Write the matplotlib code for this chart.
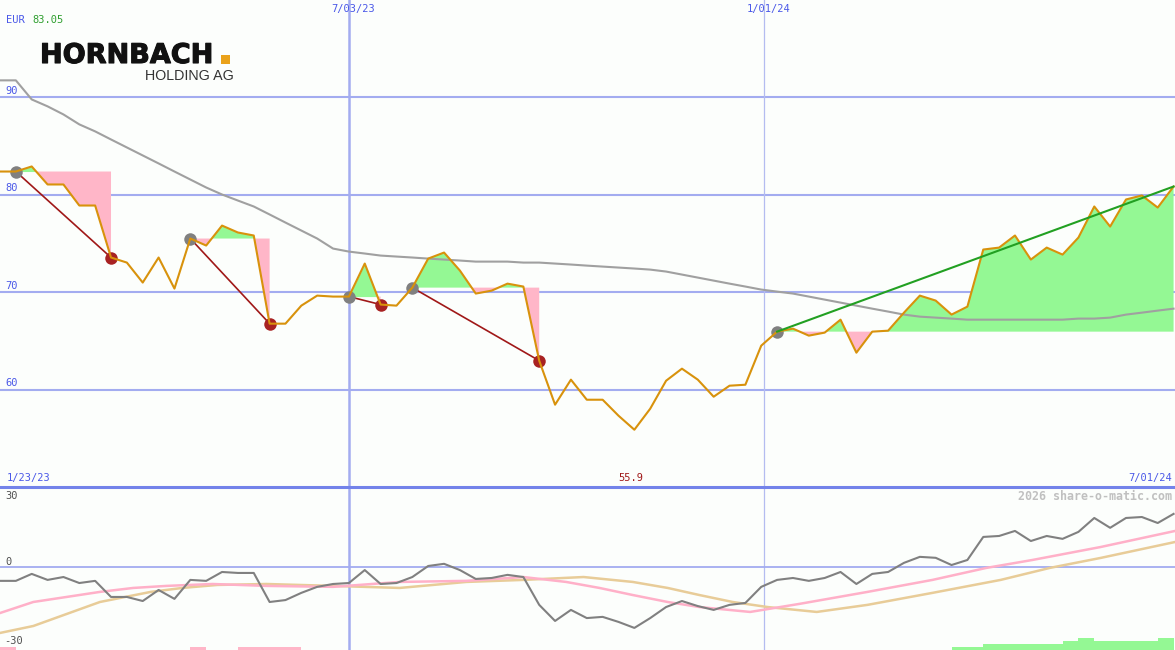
import numpy as np
import matplotlib
matplotlib.use('Agg')
import matplotlib.pyplot as plt
import matplotlib.patheffects as pe

# =========================
# 数据 (周序号, 价格 EUR)
# =========================

weeks = np.arange(75)

price = [82.39, 82.39, 82.91, 81.06, 81.06, 78.90, 78.90, 73.56, 73.04, 70.99,
         73.56, 70.37, 75.51, 74.79, 76.84, 76.13, 75.82, 66.77, 66.77, 68.62,
         69.65, 69.55, 69.55, 72.94, 68.73, 68.62, 70.47, 73.45, 74.07, 72.22,
         69.86, 70.16, 70.88, 70.58, 62.97, 58.45, 61.02, 58.96, 58.96, 57.32,
         55.88, 58.04, 60.91, 62.15, 61.02, 59.27, 60.40, 60.50, 64.51, 65.95,
         66.26, 65.54, 65.85, 67.18, 63.79, 65.95, 66.05, 67.90, 69.65, 69.14,
         67.70, 68.52, 74.38, 74.58, 75.82, 73.35, 74.58, 73.86, 75.61, 78.80,
         76.74, 79.52, 79.93, 78.69, 80.85]

ma_long = [91.75, 91.75, 89.79, 89.08, 88.25, 87.23, 86.51, 85.68, 84.86, 84.04,
           83.22, 82.39, 81.57, 80.75, 80.03, 79.41, 78.80, 77.98, 77.15, 76.33,
           75.51, 74.48, 74.17, 73.97, 73.76, 73.66, 73.56, 73.45, 73.35, 73.25,
           73.14, 73.14, 73.14, 73.04, 73.04, 72.94, 72.84, 72.73, 72.63, 72.53,
           72.43, 72.32, 72.12, 71.81, 71.50, 71.19, 70.88, 70.58, 70.27, 70.06,
           69.86, 69.55, 69.24, 68.93, 68.62, 68.31, 68.01, 67.70, 67.49, 67.39,
           67.29, 67.18, 67.18, 67.18, 67.18, 67.18, 67.18, 67.18, 67.29, 67.29,
           67.39, 67.70, 67.90, 68.11, 68.31]

# 趋势线: 起点周, 终点周
down_start = [1, 12, 22, 26]
down_end = [7, 17, 24, 34]
up_start = 49
up_end = 74

# 下方指标
momentum = [-5.8, -5.8, -2.9, -5.4, -4.2, -6.7, -5.8, -12.5, -12.5, -14.2,
            -9.6, -13.3, -5.4, -5.8, -2.1, -2.5, -2.5, -14.6, -13.8, -10.8,
            -8.3, -7.1, -6.7, -1.3, -7.1, -6.7, -4.2, 0.4, 1.3, -1.3,
            -5.0, -4.6, -3.3, -4.2, -15.8, -22.5, -17.9, -21.3, -20.8, -22.9,
            -25.4, -21.3, -16.7, -14.2, -16.3, -17.9, -15.8, -15.0, -8.3, -5.4,
            -4.6, -5.8, -4.6, -2.1, -7.1, -2.9, -2.1, 1.7, 4.2, 3.8,
            0.8, 2.9, 12.5, 12.9, 15.0, 10.8, 12.9, 11.7, 14.6, 20.4,
            16.3, 20.4, 20.8, 18.3, 22.1]

signal_x = [0, 2.1, 4.2, 6.3, 8.4, 10.5, 13.4, 16.8, 21.0, 25.2, 29.4, 33.0, 35.7,
            37.8, 39.9, 42.1, 44.1, 47.3, 50.4, 54.7, 58.8, 62.2, 65.1, 69.4, 74.1]
signal_y = [-19.2, -14.6, -12.5, -10.4, -8.75, -7.9, -7.1, -7.9, -8.3, -6.25, -5.8, -4.2, -6.25,
            -8.75, -11.7, -14.6, -16.7, -18.75, -15.4, -10.4, -5.4, -0.4, 2.9, 8.3, 15.0]

slow_x = [0, 2.1, 4.2, 6.3, 9.5, 11.5, 13.7, 16.8, 21.0, 25.2, 29.4, 33.0, 36.8,
          39.9, 42.1, 44.1, 46.2, 48.4, 51.5, 54.7, 58.8, 63.1, 66.2, 69.4, 74.1]
slow_y = [-27.5, -24.6, -19.6, -14.6, -10.4, -8.75, -7.5, -7.1, -7.9, -8.75, -6.25, -5.4, -4.2,
          -6.25, -8.75, -11.7, -14.6, -16.7, -18.75, -15.8, -10.8, -5.4, -0.4, 3.75, 10.4]

neg_bar_weeks = [0, 12, 15, 16, 17, 18]
neg_bar_h = [1.25, 1.25, 1.25, 1.25, 1.25, 1.25]
pos_bar_weeks = [60, 61, 62, 63, 64, 65, 66, 67, 68, 69, 70, 71, 72, 73]
pos_bar_h = [1.25, 1.25, 2.5, 2.5, 2.5, 2.5, 2.5, 3.75, 5.0, 3.75, 3.75, 3.75, 3.75, 5.0]

price_ticks = [60, 70, 80, 90]
vlines = [22, 48.2]
vline_labels = ['7/03/23', '1/01/24']

# =========================
# 颜色
# =========================
bg = '#fcfefc'
grid_c = '#a3acf0'
txt_blue = '#4a58e8'
orange = '#d8920c'
pink = '#ffb6c8'
green = '#94f894'

W, H = 1175, 650
fig = plt.figure(figsize=(W / 100, H / 100), dpi=100, facecolor=bg)


def fpos(x, y):
    return x / W, 1 - y / H


ax = fig.add_axes([0, 163 / H, 1, 487 / H])
ax2 = fig.add_axes([0, 0, 1, 163 / H])
for a in (ax, ax2):
    a.set_facecolor(bg)
    a.set_xlim(0, 74.09)
    a.axis('off')
ax.set_ylim(50, 100)
ax2.set_ylim(-34.6, 33.3)

# 网格
for t in price_ticks:
    ax.axhline(t, color=grid_c, lw=1.5, zorder=0)
ax.axvline(vlines[0], color=grid_c, lw=1.8, zorder=0)
ax.axvline(vlines[1], color='#b4bcf0', lw=0.9, zorder=0)
ax2.axvline(vlines[0], color=grid_c, lw=1.8, zorder=0)
ax2.axvline(vlines[1], color='#b4bcf0', lw=0.9, zorder=0)
ax2.axhline(0, color=grid_c, lw=1.3, zorder=0)
ax2.axhline(33.3, color='#7383ea', lw=2.2, zorder=5, clip_on=False)

price_arr = np.array(price)
segs = list(zip(down_start, down_end)) + [(up_start, up_end)]
for s, e in segs:
    xs = weeks[s:e + 1]
    ys = price_arr[s:e + 1]
    lvl = price_arr[s]
    ax.fill_between(xs, ys, lvl, where=ys >= lvl, interpolate=True, color=green, lw=0, zorder=1)
    ax.fill_between(xs, ys, lvl, where=ys <= lvl, interpolate=True, color=pink, lw=0, zorder=1)

ax.plot(weeks, ma_long, color='#a0a0a0', lw=1.5, zorder=2)

for s, e in zip(down_start, down_end):
    ax.plot([s, e], [price[s], price[e]], color='#a01818', lw=1.2, zorder=3)
    ax.plot(e, price[e], 'o', color='#a82222', ms=9, mec='none', zorder=4)
for s in down_start + [up_start]:
    ax.plot(s, price[s], 'o', color='#808080', ms=9, mec='none', zorder=4)

ax.plot(weeks, price, color=orange, lw=1.5, zorder=5)
ax.plot([up_start, up_end], [price[up_start], price[up_end]], color='#22a022', lw=1.5, zorder=6)

# 下方指标
ax2.bar(neg_bar_weeks, neg_bar_h, width=1.0, align='edge', bottom=-34.6, color=pink, lw=0, zorder=1)
ax2.bar(pos_bar_weeks, pos_bar_h, width=1.0, align='edge', bottom=-34.6, color=green, lw=0, zorder=1)
ax2.plot(slow_x, slow_y, color='#e8cc98', lw=1.8, zorder=2)
ax2.plot(signal_x, signal_y, color='#ffb0c8', lw=1.8, zorder=3)
ax2.plot(weeks, momentum, color='#808080', lw=1.5, zorder=4)

# 文字
mono = 'DejaVu Sans Mono'
fs = 7.5
fig.text(*fpos(6, 20), 'EUR', color=txt_blue, family=mono, fontsize=fs, va='center')
fig.text(*fpos(32, 20), '83.05', color='#2f9f2f', family=mono, fontsize=fs, va='center')
for t in price_ticks:
    fig.text(*fpos(5, 97 - (t - 90) * 9.74 - 6), str(t), color=txt_blue, family=mono,
             fontsize=fs, va='center')
for v, lab in zip(vlines, vline_labels):
    fig.text(*fpos(v * 15.86 + 4, 9), lab, color=txt_blue, family=mono, fontsize=fs,
             ha='center', va='center')
fig.text(*fpos(7, 478), '1/23/23', color=txt_blue, family=mono, fontsize=fs, va='center')
fig.text(*fpos(631, 478), '55.9', color='#a01818', family=mono, fontsize=fs,
         ha='center', va='center')
fig.text(*fpos(1172, 478), '7/01/24', color=txt_blue, family=mono, fontsize=fs,
         ha='right', va='center')
fig.text(*fpos(1172, 496), '2026 share-o-matic.com', color='#c0c0c0', family=mono,
         fontsize=8.4, fontweight='bold', ha='right', va='center')
fig.text(*fpos(5, 496), '30', color='#505050', family=mono, fontsize=fs, va='center')
fig.text(*fpos(5, 562), '0', color='#505050', family=mono, fontsize=fs, va='center')
fig.text(*fpos(4, 641), '-30', color='#505050', family=mono, fontsize=fs, va='center')

# 标志
fig.text(*fpos(40, 63), 'HORNBACH', color='#111111', family='DejaVu Sans', fontsize=19.5,
         fontweight='bold', va='baseline',
         path_effects=[pe.withStroke(linewidth=0.8, foreground='#111111')])
fig.patches.append(plt.Rectangle(fpos(221, 64), 9 / W, 9 / H, transform=fig.transFigure,
                                 facecolor='#eaa21a', edgecolor='none', fill=True, figure=fig,
                                 zorder=5))
fig.text(*fpos(145, 80), 'HOLDING AG', color='#333333', family='Liberation Sans',
         fontsize=10.3, va='baseline')

fig.savefig('out.png', dpi=100, facecolor=bg)
